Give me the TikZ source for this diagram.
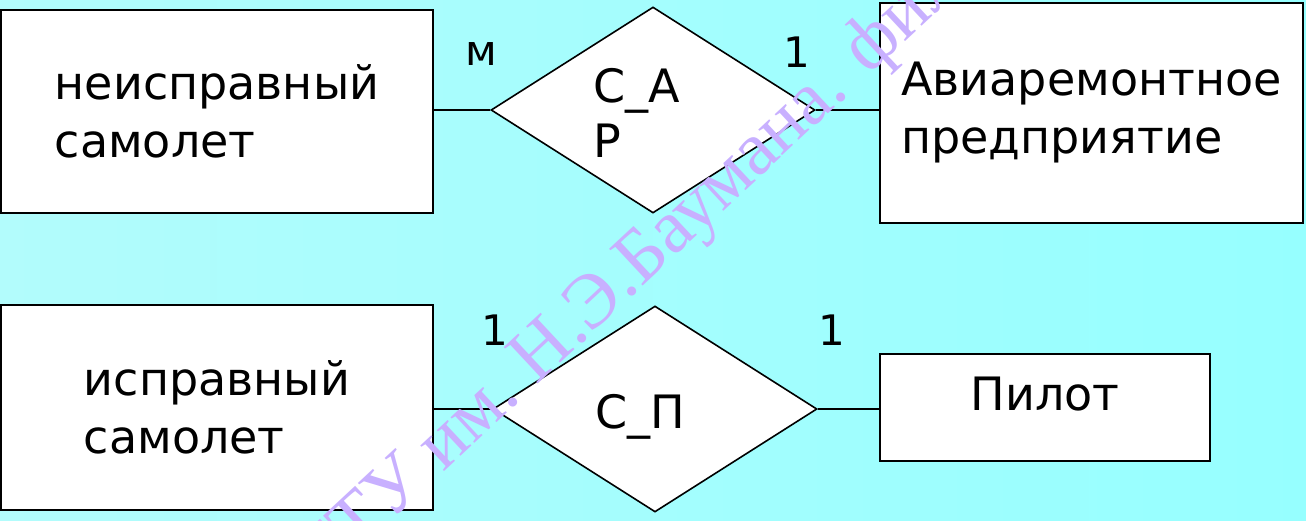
\documentclass[tikz,border=0pt]{standalone}
\usepackage{fontspec}
\setmainfont{DejaVu Sans}
\newfontfamily\wmfont{Liberation Serif}
\usetikzlibrary{shapes.geometric}

\definecolor{bgleft}{RGB}{178,252,252}
\definecolor{bgright}{RGB}{150,255,255}
\definecolor{wmcolor}{RGB}{200,176,255}

\begin{document}
\begin{tikzpicture}[x=0.5pt,y=-0.5pt,
  entity/.style={draw=black, line width=1pt, fill=white, inner sep=0pt,
                 align=left, font=\fontsize{23}{29}\selectfont},
  relation/.style={diamond, draw=black, line width=0.8pt, fill=white,
                   inner sep=0pt, minimum width=162pt, minimum height=103pt},
  reltext/.style={anchor=base west, inner sep=0pt, align=left,
                  font=\fontsize{23}{27.5}\selectfont},
  card/.style={anchor=base, inner sep=0pt, font=\fontsize{21}{21}\selectfont},
  link/.style={line width=0.8pt},
  wm/.style={text=wmcolor, inner sep=0pt, rotate=43,
             font=\wmfont\fontsize{38}{38}\selectfont}]

% canvas and background
\useasboundingbox (0,0) rectangle (1306,520);
\shade[left color=bgleft, right color=bgright] (0,0) rectangle (1306,520);

% entities
\node[entity, minimum width=216pt, minimum height=101.5pt] (e1) at (217,111.5) {неисправный\\самолет};
\node[entity, minimum width=211.5pt, minimum height=110pt] (e2) at (1091.5,113) {Авиаремонтное\\предприятие};
\node[entity, minimum width=216pt, minimum height=102.5pt] (e3) at (217,407.5) {исправный\\самолет};
\node[entity, minimum width=165pt, text height=28pt, text depth=25.5pt, align=center] (e4) at (1045,407.5) {Пилот};

% relationships
\node[relation] (r1) at (653,110) {};
\node[relation] (r2) at (655,409) {};
\node[reltext] (r1t) at (593,157) {С\_А\\Р};
\node[reltext] (r2t) at (595,428) {С\_П};

% connectors
\draw[link] (r1.west) -- (r1.west -| e1.east);
\draw[link] (r1.east) -- (r1.east -| e2.west);
\draw[link] (r2.west) -- (r2.west -| e3.east);
\draw[link] (r2.east) -- (r2.east -| e4.west);

% cardinalities
\node[card] (c1) at (481,65) {м};
\node[card] (c2) at (797,67) {1};
\node[card] (c3) at (495,345) {1};
\node[card] (c4) at (832,345) {1};

% watermark
\begin{scope}
  \clip (0,0) rectangle (1306,520);
  \node[wm, anchor=base east] (wma) at (522.7,398.5) {МГТУ им.};
  \node[wm, anchor=base west] (wmb) at (522.7,398.5) {\hspace*{0.25em}Н.Э.Баумана. филиал};
\end{scope}
\end{tikzpicture}
\end{document}
